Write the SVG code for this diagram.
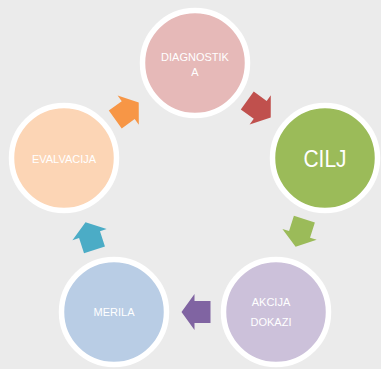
<svg xmlns="http://www.w3.org/2000/svg" width="381" height="369" viewBox="0 0 381 369">
<defs>
<style>
.node{stroke:#ffffff;stroke-width:5.5}
.lbl{font-family:"Liberation Sans",Arial,sans-serif;font-size:11px;fill:#ffffff;text-anchor:middle}
</style>
<path id="arr" d="M-14.5,-11 L1.5,-11 L1.5,-18 L14.5,0 L1.5,18 L1.5,11 L-14.5,11 Z"/>
</defs>
<rect width="381" height="369" fill="#ebebeb"/>
<g id="connectors">
<use href="#arr" fill="#c0504d" transform="translate(259,109) rotate(36)"/>
<use href="#arr" fill="#9bbb59" transform="translate(300,233) rotate(107.6)"/>
<use href="#arr" fill="#8064a2" transform="translate(196,312) rotate(180)"/>
<use href="#arr" fill="#4bacc6" transform="translate(90,236) rotate(-108)"/>
<use href="#arr" fill="#f79646" transform="translate(127,111) rotate(-36)"/>
</g>
<g id="diagnostika">
<circle class="node" cx="195" cy="63" r="52.5" fill="#e6b9b8"/>
<text class="lbl" x="195" y="60.5">DIAGNOSTIK</text>
<text class="lbl" x="195" y="75.5">A</text>
</g>
<g id="cilj">
<circle class="node" cx="325" cy="158" r="52.5" fill="#9bbb59"/>
<text x="325" y="166.5" font-family="'Liberation Sans',Arial,sans-serif" font-size="23" fill="#ffffff" text-anchor="middle" textLength="43" lengthAdjust="spacingAndGlyphs">CILJ</text>
</g>
<g id="akcija">
<circle class="node" cx="276" cy="312" r="52.5" fill="#ccc1da"/>
<text class="lbl" x="271" y="306">AKCIJA</text>
<text class="lbl" x="271" y="326">DOKAZI</text>
</g>
<g id="merila">
<circle class="node" cx="114" cy="312" r="52.5" fill="#b9cde5"/>
<text class="lbl" x="114" y="316">MERILA</text>
</g>
<g id="evalvacija">
<circle class="node" cx="64" cy="158" r="52.5" fill="#fcd5b5"/>
<text class="lbl" x="64" y="162.5">EVALVACIJA</text>
</g>
</svg>
